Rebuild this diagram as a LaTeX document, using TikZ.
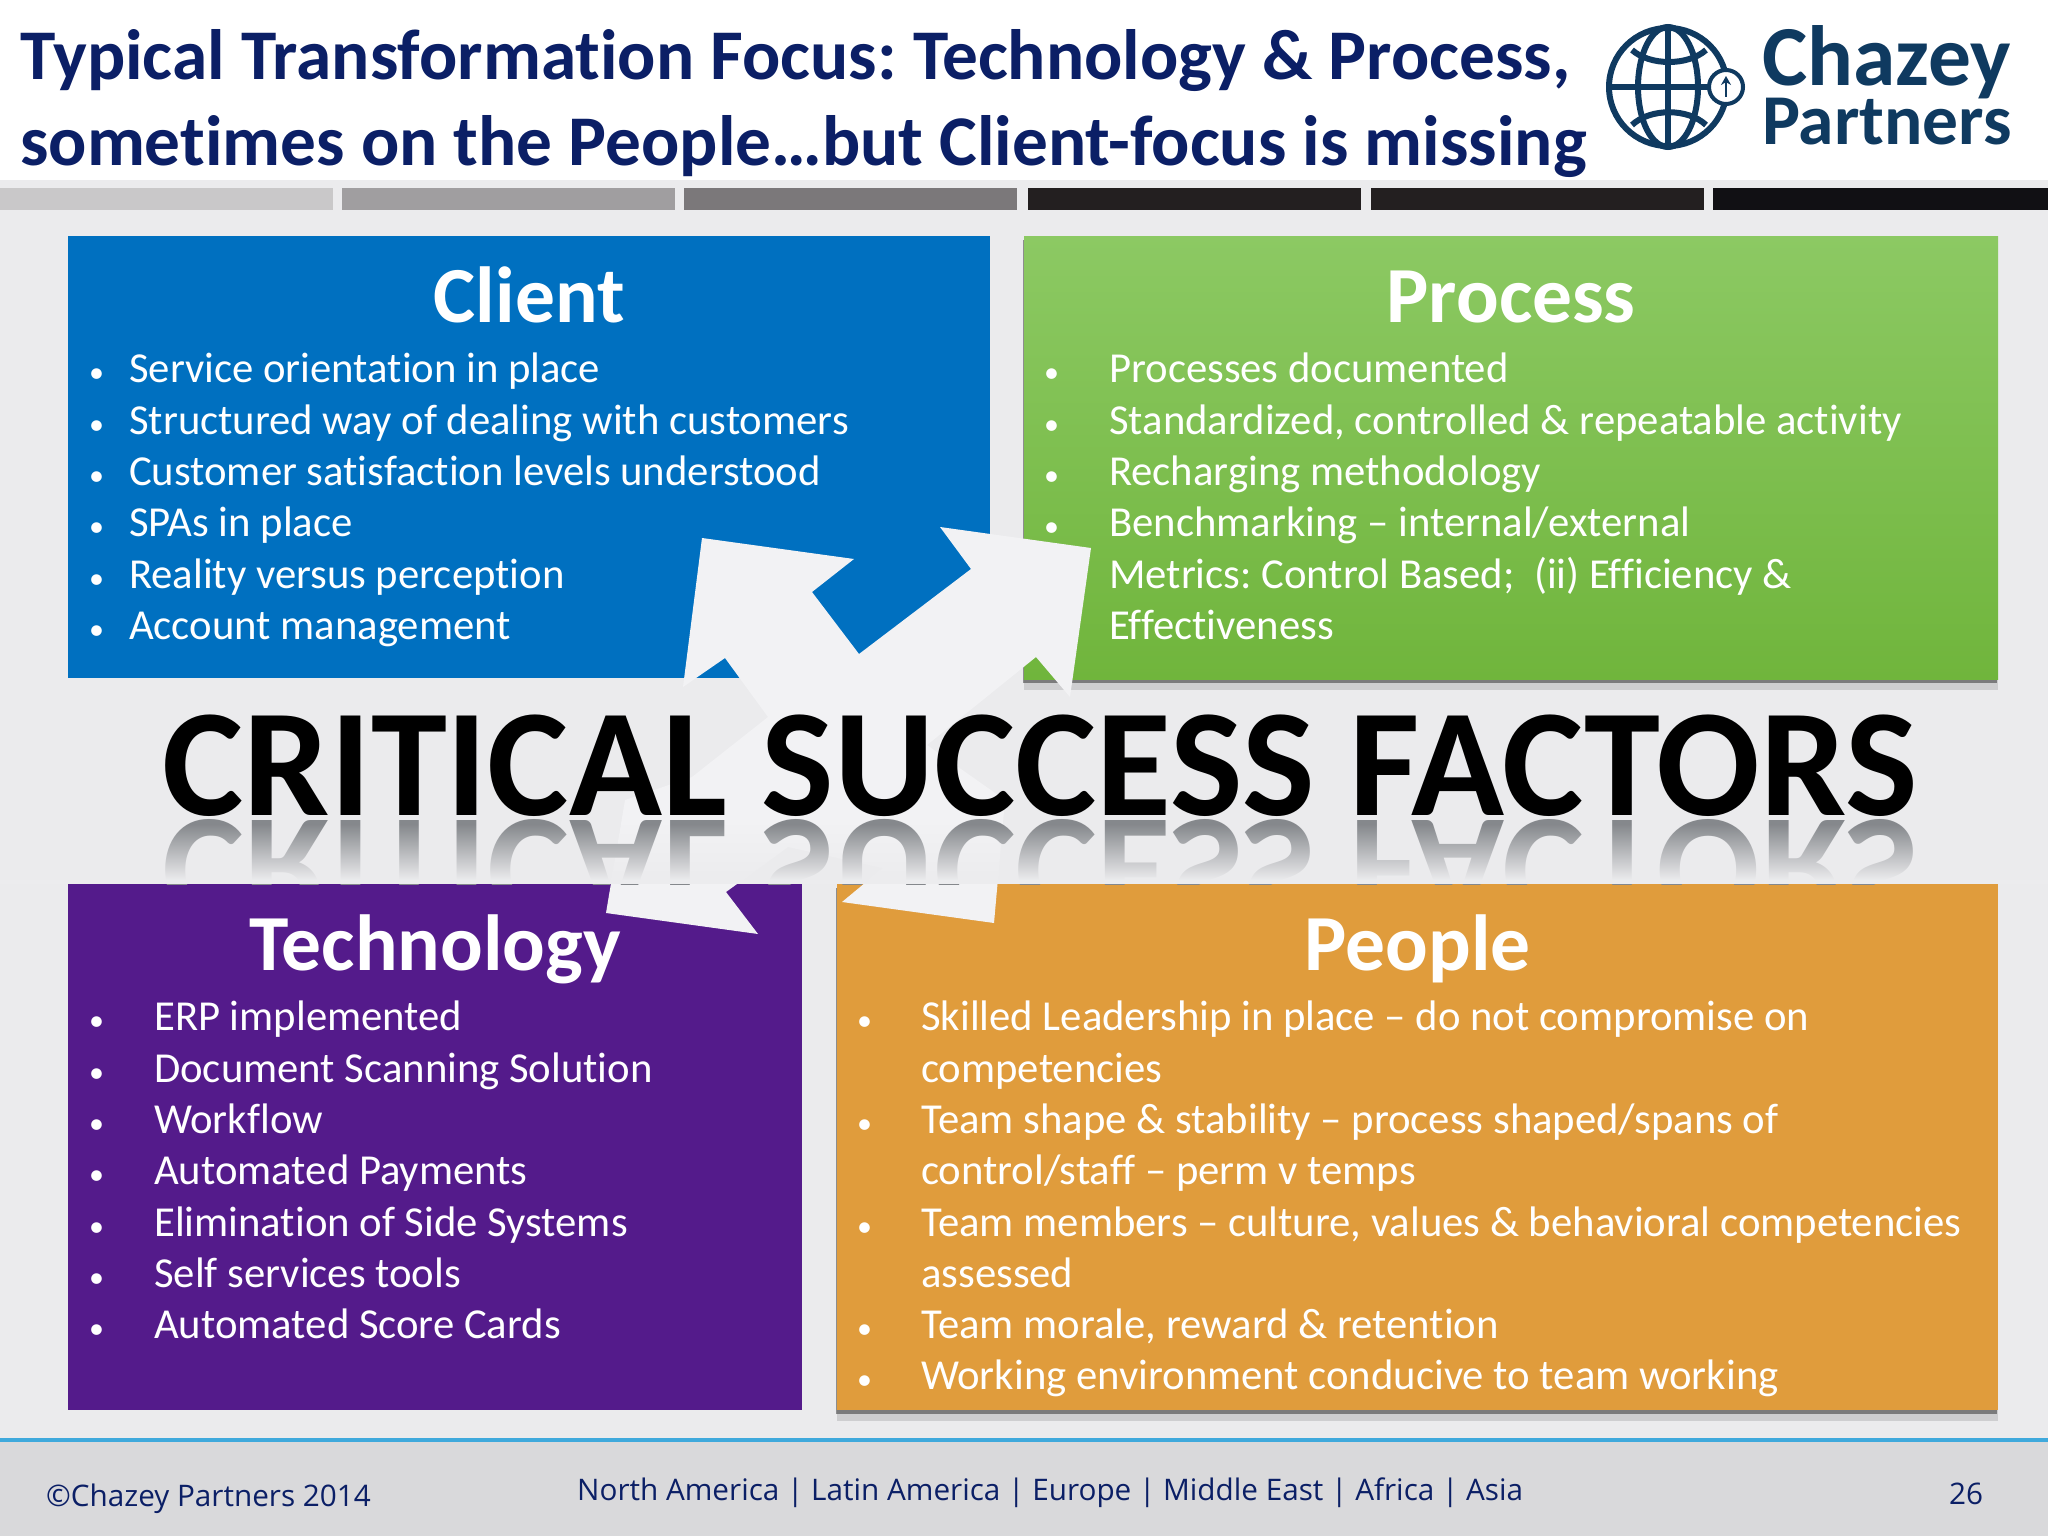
\documentclass[tikz,border=0pt]{standalone}
\usepackage{fontspec}
\setmainfont{Carlito}[Ligatures={TeX,NoCommon}]
\newfontfamily\footfont{Open Sans}
\frenchspacing
\usetikzlibrary{arrows.meta, positioning, shadows, fadings}
\definecolor{navy}{HTML}{0B1F66}
\definecolor{logoblue}{HTML}{0F3A60}
\definecolor{pagegray}{HTML}{EBEBED}
\definecolor{footgray}{HTML}{D9D9DB}
\definecolor{footline}{HTML}{3FA9DC}
\definecolor{starwhite}{HTML}{F2F2F4}
\definecolor{clientblue}{HTML}{0070C0}
\definecolor{techpurple}{HTML}{541B8B}
\definecolor{peopleorange}{HTML}{E09C3C}
\definecolor{processtop}{HTML}{8CC963}
\definecolor{processlow}{HTML}{70B53C}
\definecolor{mirrorgray}{HTML}{85888C}
\definecolor{mirrorfade}{HTML}{ECECEE}
\tikzfading[name=fade down, top color=transparent!100, bottom color=transparent!0]
\newcommand{\itm}[1][40pt]{\makebox[#1][l]{\fontsize{30}{30}\selectfont\textbullet}}
\tikzset{%
	box/.style={
		anchor=north west,
		inner sep=0pt
	},
	boxshadow/.style={
		drop shadow={shadow xshift=0pt, shadow yshift=-11pt, fill=black, opacity=0.12},
		drop shadow={shadow xshift=-1.5pt, shadow yshift=-4pt, fill=black, opacity=0.4}
	},
	head/.style={
		anchor=base,
		inner sep=0pt,
		text=white,
		font=\fontsize{79.5}{90}\selectfont\bfseries
	},
	body/.style={
		anchor=north west,
		inner sep=0pt,
		align=left,
		text=white,
		font=\fontsize{42.7}{51.3}\selectfont
	},
	titleline/.style={
		anchor=base west,
		inner sep=0pt,
		text=navy,
		font=\fontsize{71.3}{78}\selectfont\bfseries
	},
	foot/.style={
		anchor=base west,
		inner sep=0pt,
		text=navy,
		font=\fontsize{29.7}{32}\selectfont\footfont
	},
	logoline/.style={
		draw=logoblue,
		line width=6pt
	},
	logotext/.style={
		anchor=base west,
		inner sep=0pt,
		text=logoblue,
		font=\bfseries
	},
	bigline/.style={
		anchor=base,
		inner sep=0pt,
		font=\fontsize{153.4}{170}\selectfont\bfseries
	}
}
\begin{document}
\begin{tikzpicture}[x=1pt, y=-1pt]
	\useasboundingbox (0,0) rectangle (2048,1536);
	\fill[white] (0,0) rectangle (2048,180);
	\fill[pagegray] (0,180) rectangle (2048,1440);
	\fill[footgray] (0,1440) rectangle (2048,1536);
	\draw[draw=footline, line width=3.5pt] (0,1440) -- (2048,1440);
	% bars under the title
	\foreach \xa/\xb/\tone in {0/333/C9C8C9, 342/675/A09EA0, 684/1017/7B787A, 1028/1361/231F20, 1371/1704/231F20, 1713/2048/111014} {
		\definecolor{barcol}{HTML}{\tone}
		\fill[barcol] (\xa,188) rectangle (\xb,210);
	}
	% title
	\node[titleline] (title1) at (20,80) {Typical Transformation Focus: Technology \& Process,};
	\node[titleline] (title2) at (20,165) {sometimes on the People\ldots but Client-focus is missing};
	% logo
	\node[circle, logoline, minimum size=118pt, inner sep=0pt] (globe) at (1668,87) {};
	\draw[logoline] (globe.center) ellipse (30 and 60);
	\draw[logoline] (globe.north) -- (globe.south);
	\draw[logoline] (globe.west) -- (globe.east);
	\draw[logoline] (1632,50) .. controls (1650,66) and (1688,66) .. (1706,50);
	\draw[logoline] (1632,125) .. controls (1650,108) and (1688,108) .. (1706,125);
	\node[circle, draw=logoblue, fill=white, line width=4pt, minimum size=34pt, inner sep=0pt] (badge) at (1726,87) {};
	\coordinate (badgelow) at (1726,97);
	\coordinate (badgetop) at (1726,76);
	\draw[-{Stealth[length=9pt,width=10pt]}, draw=logoblue, line width=2.5pt] (badgelow) -- (badgetop);
	\node[logotext, font=\fontsize{85.5}{90}\selectfont\bfseries] (chazey) at (1762,86) {Chazey};
	\node[logotext, font=\fontsize{71.5}{76}\selectfont\bfseries] (partners) at (1762,145) {Partners};
	% boxes
	\node[box, fill=clientblue, minimum width=922pt, minimum height=442pt] (client) at (68,236) {};
	\node[box, boxshadow, top color=processtop, bottom color=processlow, minimum width=974pt, minimum height=443pt] (process) at (1024,236) {};
	\node[box, fill=techpurple, minimum width=734pt, minimum height=526pt] (technology) at (68,884) {};
	\node[box, boxshadow, fill=peopleorange, minimum width=1161pt, minimum height=526pt] (people) at (837,884) {};
	% box headings
	\node[head] (clienthead) at ([yshift=-86pt]client.north) {Client};
	\node[head] (processhead) at ([yshift=-86pt]process.north) {Process};
	\node[head] (techhead) at ([yshift=-86pt]technology.north) {Technology};
	\node[head] (peoplehead) at ([yshift=-86pt]people.north) {People};
	% box texts
	\node[body] (clienttext) at (89,353) {\itm Service orientation in place\\
		\itm Structured way of dealing with customers\\
		\itm Customer satisfaction levels understood\\
		\itm SPAs in place\\
		\itm Reality versus perception\\
		\itm Account management};
	\node[body] (processtext) at (1044,353) {\itm[65pt]Processes documented\\
		\itm[65pt]Standardized, controlled \& repeatable activity\\
		\itm[65pt]Recharging methodology\\
		\itm[65pt]Benchmarking -- internal/external\\
		\itm[65pt]Metrics: Control Based;\ \ (ii) Efficiency \&\\
		\hspace*{65pt}Effectiveness};
	\node[body] (techtext) at (89,1001) {\itm[65pt]ERP implemented\\
		\itm[65pt]Document Scanning Solution\\
		\itm[65pt]Workflow\\
		\itm[65pt]Automated Payments\\
		\itm[65pt]Elimination of Side Systems\\
		\itm[65pt]Self services tools\\
		\itm[65pt]Automated Score Cards};
	\node[body] (peopletext) at (857,1001) {\itm[64pt]Skilled Leadership in place -- do not compromise on\\
		\hspace*{64pt}competencies\\
		\itm[64pt]Team shape \& stability -- process shaped/spans of\\
		\hspace*{64pt}control/staff -- perm v temps\\
		\itm[64pt]Team members -- culture, values \& behavioral competencies\\
		\hspace*{64pt}assessed\\
		\itm[64pt]Team morale, reward \& retention\\
		\itm[64pt]Working environment conducive to team working};
	% four way arrow
	\fill[starwhite] (702,538) -- (854,559) -- (812,592) -- (859,654) -- (971,569) -- (940,527)
		-- (1091,548) -- (1070,697) -- (1036,657) -- (927,745) -- (1005,800) -- (994,923)
		-- (842,902) -- (883,868) -- (788,847) -- (726,892) -- (758,934) -- (606,913)
		-- (625,800) -- (692,777) -- (768,717) -- (725,658) -- (683,687) -- cycle;
	% reflection, then the big text
	\begin{scope}
		\clip (0,800) rectangle (2048,884);
		\node[bigline, yscale=-1, text=mirrorgray] (mirror) at (1040,820) {CRITICAL SUCCESS FACTORS};
		\fill[mirrorfade, path fading=fade down] (0,824) rectangle (2048,880);
		\fill[mirrorfade] (0,880) rectangle (2048,884);
	\end{scope}
	\node[bigline] (factors) at (1040,815) {CRITICAL SUCCESS FACTORS};
	% footer
	\node[foot] (copy) at (46,1506) {©Chazey Partners 2014};
	\node[foot] (regions) at (577,1500) {North America | Latin America | Europe | Middle East | Africa | Asia};
	\node[foot] (pagenum) at (1949,1504) {26};
\end{tikzpicture}
\end{document}
